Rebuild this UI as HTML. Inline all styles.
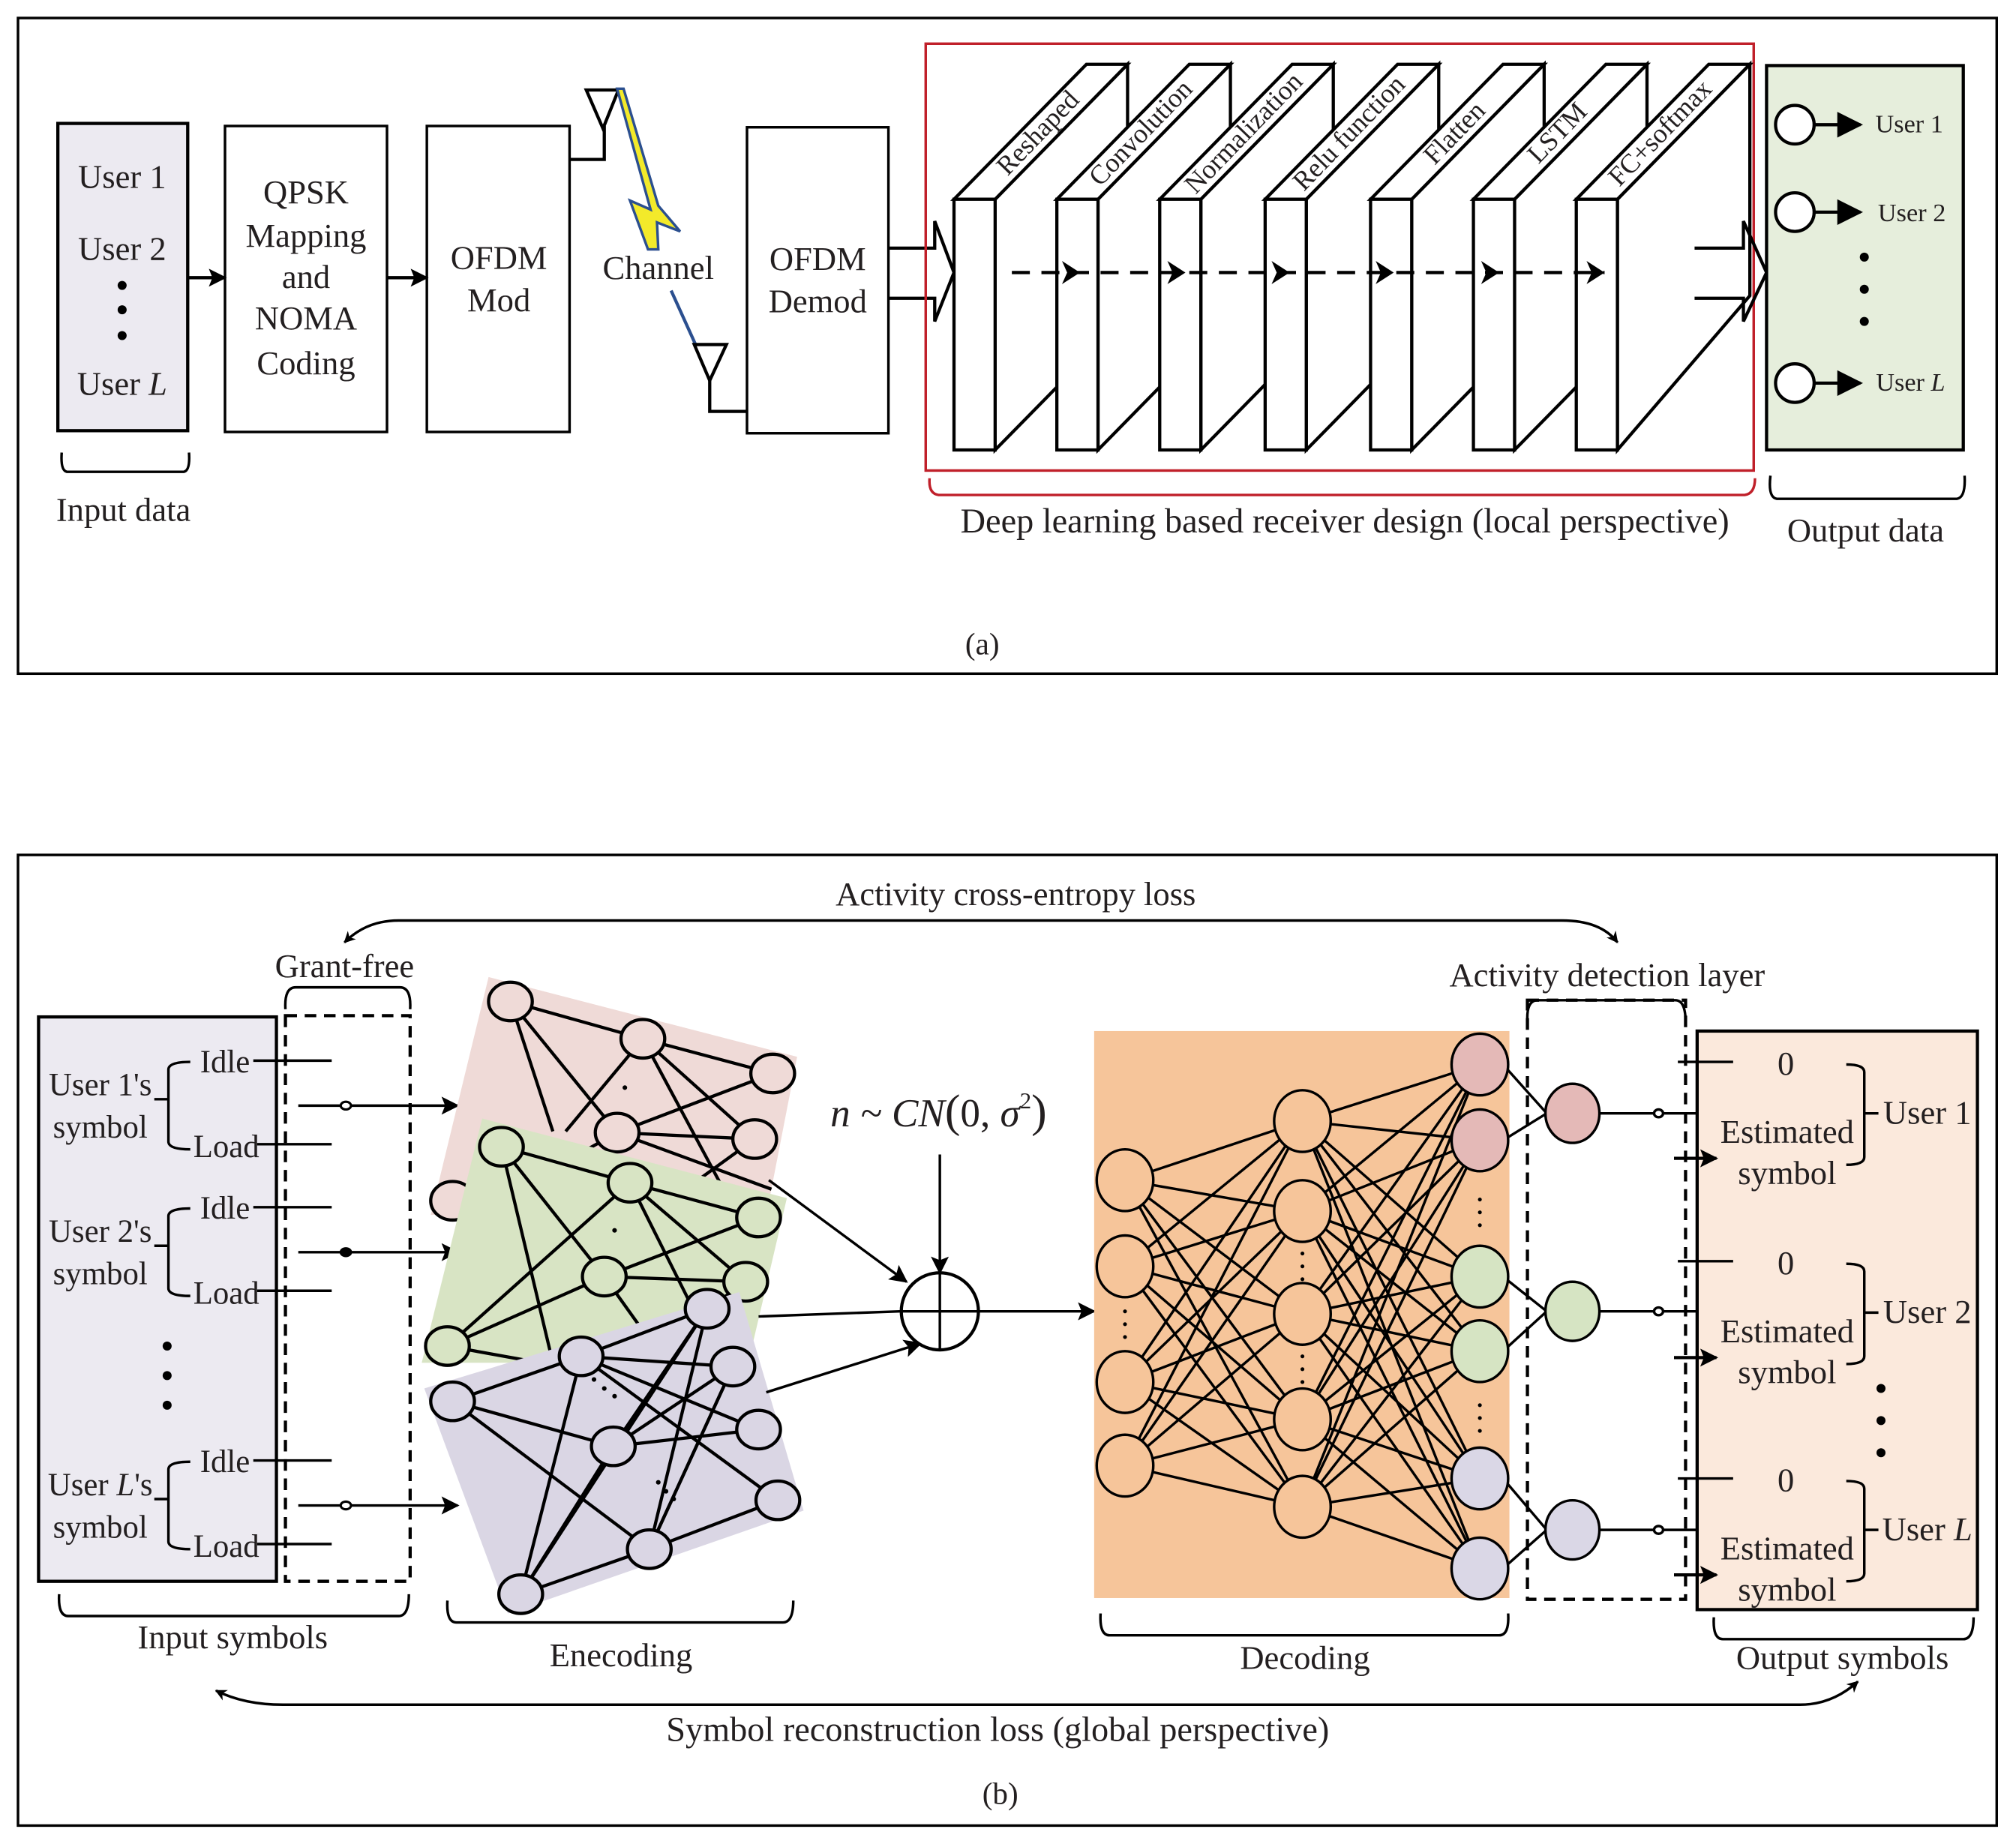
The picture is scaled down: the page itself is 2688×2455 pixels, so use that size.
<!DOCTYPE html>
<html><head><meta charset="utf-8"><style>
html,body{margin:0;padding:0;background:#fff}
svg{display:block}
text{font-family:"Liberation Serif",serif;fill:#231f20}
</style></head><body>
<svg id="s" width="2688" height="2455" viewBox="0 0 1568 1432" preserveAspectRatio="none" xmlns="http://www.w3.org/2000/svg">
<defs>
<marker id="ah" viewBox="0 0 10 10" refX="9" refY="5" markerWidth="9" markerHeight="9" orient="auto-start-reverse" markerUnits="userSpaceOnUse"><path d="M0,0 L10,5 L0,10 L3,5 z" fill="#000"/></marker>
<marker id="ah2" viewBox="0 0 10 10" refX="9" refY="5" markerWidth="16" markerHeight="14" orient="auto-start-reverse" markerUnits="userSpaceOnUse"><path d="M0,0 L10,5 L0,10 L2,5 z" fill="#000"/></marker>
<marker id="ah3" viewBox="0 0 10 10" refX="9" refY="5" markerWidth="24" markerHeight="20" orient="auto" markerUnits="userSpaceOnUse"><path d="M0,0 L10,5 L0,10 z" fill="#000"/></marker>
</defs>
<rect x="0" y="0" width="1568" height="1432" fill="#fff"/>
<!-- ================= (a) ================= -->
<rect x="14" y="14" width="1539" height="510" fill="none" stroke="#000" stroke-width="2"/>
<g font-size="26" text-anchor="middle">
<rect x="45" y="96" width="101" height="239" fill="#ECEAF1" stroke="#000" stroke-width="2.5"/>
<text x="95" y="146">User 1</text>
<text x="95" y="202">User 2</text>
<circle cx="95" cy="222" r="3.5" fill="#000"/><circle cx="95" cy="241" r="3.5" fill="#000"/><circle cx="95" cy="261" r="3.5" fill="#000"/>
<text x="95" y="307">User <tspan font-style="italic">L</tspan></text>
<path d="M48,352 Q47,366 52,367 L143,367 Q148,366 147,352" fill="none" stroke="#000" stroke-width="2"/>
<text x="96" y="405">Input data</text>

<rect x="175" y="98" width="126" height="238" fill="#fff" stroke="#000" stroke-width="2"/>
<text x="238" y="158">QPSK</text><text x="238" y="192">Mapping</text><text x="238" y="224">and</text><text x="238" y="256">NOMA</text><text x="238" y="291">Coding</text>
<line x1="146" y1="216" x2="175" y2="216" stroke="#000" stroke-width="2.5" marker-end="url(#ah2)"/>
<rect x="332" y="98" width="111" height="238" fill="#fff" stroke="#000" stroke-width="2"/>
<text x="388" y="209">OFDM</text><text x="388" y="242">Mod</text>
<line x1="301" y1="216" x2="332" y2="216" stroke="#000" stroke-width="2.5" marker-end="url(#ah2)"/>
<polyline points="443,124 470,124 470,98" fill="none" stroke="#000" stroke-width="2.5"/>
<polygon points="456,70 481,70 469,100" fill="none" stroke="#000" stroke-width="2.5"/>
<polygon points="480,69 485,69 512,160 529,180 511,173 512,194 504,194 490,156 506,163" fill="#F3EA2A" stroke="#2B4F8F" stroke-width="2"/>
<line x1="522" y1="226" x2="541" y2="268" stroke="#2B4F8F" stroke-width="2.5"/>
<text x="512" y="217">Channel</text>
<polygon points="540,268 565,268 552,296" fill="none" stroke="#000" stroke-width="2.5"/>
<polyline points="552,296 552,320 581,320" fill="none" stroke="#000" stroke-width="2.5"/>
<rect x="581" y="99" width="110" height="238" fill="#fff" stroke="#000" stroke-width="2"/>
<text x="636" y="210">OFDM</text><text x="636" y="243">Demod</text>
</g>
<polyline points="691,193 727,193 727,172 742,212 727,250 727,232 691,232" fill="none" stroke="#000" stroke-width="2.5"/>
<rect x="720" y="34" width="644" height="332" fill="none" stroke="#C0202A" stroke-width="2"/>
<g id="layers" stroke="#000" stroke-width="2.5" fill="#fff"></g>
<polyline points="1318,193 1356,193 1356,172 1374,212 1356,250 1356,232 1318,232" fill="none" stroke="#000" stroke-width="2.5"/>
<path d="M723,372 Q722,384 730,385 L1357,385 Q1365,384 1365,372" fill="none" stroke="#C0202A" stroke-width="2"/>
<text x="1046" y="414" font-size="27" text-anchor="middle">Deep learning based receiver design (local perspective)</text>
<rect x="1374" y="51" width="153" height="299" fill="#E6EEDC" stroke="#000" stroke-width="2.5"/>
<g font-size="20" text-anchor="middle">
<circle cx="1396" cy="97" r="15" fill="#fff" stroke="#000" stroke-width="2.5"/><line x1="1411" y1="97" x2="1447" y2="97" stroke="#000" stroke-width="2.5" marker-end="url(#ah3)"/><text x="1485" y="103">User 1</text>
<circle cx="1396" cy="165" r="15" fill="#fff" stroke="#000" stroke-width="2.5"/><line x1="1411" y1="165" x2="1447" y2="165" stroke="#000" stroke-width="2.5" marker-end="url(#ah3)"/><text x="1487" y="172">User 2</text>
<circle cx="1396" cy="298" r="15" fill="#fff" stroke="#000" stroke-width="2.5"/><line x1="1411" y1="298" x2="1447" y2="298" stroke="#000" stroke-width="2.5" marker-end="url(#ah3)"/><text x="1486" y="304">User <tspan font-style="italic">L</tspan></text>
</g>
<circle cx="1450" cy="200" r="3.5" fill="#000"/><circle cx="1450" cy="225" r="3.5" fill="#000"/><circle cx="1450" cy="250" r="3.5" fill="#000"/>
<path d="M1377,370 Q1375,387 1382,388 L1522,388 Q1529,387 1528,370" fill="none" stroke="#000" stroke-width="2"/>
<text x="1451" y="421" font-size="26" text-anchor="middle">Output data</text>
<text x="764" y="509" font-size="24" text-anchor="middle">(a)</text>

<!-- ================= (b) ================= -->
<rect x="14" y="665" width="1539" height="755" fill="none" stroke="#000" stroke-width="2"/>
<text x="790" y="704" font-size="26" text-anchor="middle">Activity cross-entropy loss</text>
<path d="M268,733 Q285,716 310,716 L1215,716 Q1245,716 1258,733" fill="none" stroke="#000" stroke-width="2" marker-start="url(#ah)" marker-end="url(#ah)"/>
<path d="M168,1315 Q190,1326 220,1326 L1400,1326 Q1425,1326 1445,1308" fill="none" stroke="#000" stroke-width="2" marker-start="url(#ah)" marker-end="url(#ah)"/>
<text x="776" y="1354" font-size="27" text-anchor="middle">Symbol reconstruction loss (global perspective)</text>
<text x="778" y="1403" font-size="24" text-anchor="middle">(b)</text>

<rect x="30" y="791" width="185" height="439" fill="#ECEAF1" stroke="#000" stroke-width="2.5"/>
<rect x="222" y="790" width="97" height="440" fill="none" stroke="#000" stroke-width="2.5" stroke-dasharray="9,6"/>
<path d="M222,785 Q221,768 230,768 L311,768 Q320,768 319,785" fill="none" stroke="#000" stroke-width="2"/>
<text x="268" y="760" font-size="26" text-anchor="middle">Grant-free</text>
<g id="users" font-size="25" text-anchor="middle"></g>
<circle cx="130" cy="1047" r="3.5" fill="#000"/><circle cx="130" cy="1070" r="3.5" fill="#000"/><circle cx="130" cy="1093" r="3.5" fill="#000"/>
<path d="M46,1240 Q45,1257 53,1257 L310,1257 Q318,1257 318,1240" fill="none" stroke="#000" stroke-width="2"/>
<text x="181" y="1282" font-size="26" text-anchor="middle">Input symbols</text>

<!-- encoder panels -->
<polygon points="380,760 620,822 598,935 335,945" fill="#EFDAD7"/>
<g id="encP" stroke="#000" stroke-width="2.5" fill="#EFDAD7"></g>
<polygon points="375,870 612,932 582,1060 328,1060" fill="#D8E4C4"/>
<g id="encG" stroke="#000" stroke-width="2.5" fill="#D8E4C4"></g>
<polygon points="330,1080 575,1005 625,1175 395,1255" fill="#DAD6E4"/>
<g id="encL" stroke="#000" stroke-width="2.5" fill="#DAD6E4"></g>
<path d="M348,1245 Q347,1262 355,1262 L609,1262 Q617,1262 617,1245" fill="none" stroke="#000" stroke-width="2"/>
<text x="483" y="1296" font-size="26" text-anchor="middle">Enecoding</text>

<line x1="598" y1="918" x2="705" y2="997" stroke="#000" stroke-width="2" marker-end="url(#ah2)"/>
<line x1="590" y1="1024" x2="700" y2="1020" stroke="#000" stroke-width="2"/>
<line x1="596" y1="1083" x2="716" y2="1045" stroke="#000" stroke-width="2" marker-end="url(#ah2)"/>
<text x="730" y="876" font-size="31" text-anchor="middle" font-style="italic">n ~ CN<tspan font-style="normal" font-size="36">(</tspan><tspan font-style="normal">0,</tspan> σ<tspan font-size="18" dy="-14" font-style="normal">2</tspan><tspan font-style="normal" font-size="36" dy="14">)</tspan></text>
<line x1="731" y1="898" x2="731" y2="990" stroke="#000" stroke-width="2" marker-end="url(#ah2)"/>
<circle cx="731" cy="1020" r="30" fill="#fff" stroke="#000" stroke-width="2.5"/>
<line x1="701" y1="1020" x2="761" y2="1020" stroke="#000" stroke-width="2"/><line x1="731" y1="990" x2="731" y2="1050" stroke="#000" stroke-width="2"/>
<line x1="762" y1="1020" x2="851" y2="1020" stroke="#000" stroke-width="2" marker-end="url(#ah2)"/>

<rect x="851" y="802" width="323" height="441" fill="#F6C59A"/>
<g id="dec" stroke="#000" stroke-width="2"></g>
<path d="M856,1255 Q855,1272 863,1272 L1166,1272 Q1174,1272 1173,1255" fill="none" stroke="#000" stroke-width="2"/>
<text x="1015" y="1298" font-size="26" text-anchor="middle">Decoding</text>

<rect x="1188" y="778" width="123" height="466" fill="none" stroke="#000" stroke-width="2.5" stroke-dasharray="9,6"/>
<path d="M1188,795 Q1187,778 1196,778 L1303,778 Q1311,778 1311,795" fill="none" stroke="#000" stroke-width="2"/>
<text x="1250" y="767" font-size="26" text-anchor="middle">Activity detection layer</text>
<rect x="1320" y="802" width="218" height="450" fill="#FBE9DC" stroke="#000" stroke-width="2.5"/>
<g id="outs" font-size="26" text-anchor="middle"></g>
<circle cx="1463" cy="1080" r="3.5" fill="#000"/><circle cx="1463" cy="1105" r="3.5" fill="#000"/><circle cx="1463" cy="1130" r="3.5" fill="#000"/>
<path d="M1333,1258 Q1332,1275 1340,1275 L1527,1275 Q1535,1275 1535,1258" fill="none" stroke="#000" stroke-width="2"/>
<text x="1433" y="1298" font-size="26" text-anchor="middle">Output symbols</text>
</svg>
<script>
var NS="http://www.w3.org/2000/svg";
function el(p,t,a,txt){var e=document.createElementNS(NS,t);for(var k in a)e.setAttribute(k,a[k]);if(txt!==undefined)e.textContent=txt;p.appendChild(e);return e;}
var L=document.getElementById('layers');
var xs=[742,822,902,984,1066,1146,1226],names=["Reshaped","Convolution","Normalization","Relu function","Flatten","LSTM","FC+softmax"];
xs.forEach(function(x,i){
  var bot = (i==6)?230:245;
  el(L,'polygon',{points:(x+32)+",155 "+(x+135)+",50 "+(x+135)+","+bot+" "+(x+32)+",350"});
  el(L,'polygon',{points:x+",155 "+(x+103)+",50 "+(x+135)+",50 "+(x+32)+",155"});
  el(L,'rect',{x:x,y:155,width:32,height:195});
  el(L,'text',{x:0,y:0,'font-size':21,'text-anchor':'middle',stroke:'none',fill:'#231f20',transform:'translate('+(x+70)+','+(108)+') rotate(-46)'},names[i]);
});
el(L,'line',{x1:787,y1:212,x2:1248,y2:212,'stroke-dasharray':'14,9',fill:'none'});
[840,922,1003,1084,1166,1248].forEach(function(x){el(L,'path',{d:'M'+(x-14)+',203 L'+x+',212 L'+(x-14)+',221 L'+(x-10)+',212z',fill:'#000',stroke:'none'});});
var U=document.getElementById('users');
[[860,"User 1's"],[974,"User 2's"],[1171,"User L's"]].forEach(function(u,i){
  var c=u[0];
  var t=el(U,'text',{x:78,y:c-8});
  if(i==2){el(t,'tspan',{},"User ");el(t,'tspan',{'font-style':'italic'},"L");el(t,'tspan',{},"'s");} else t.textContent=u[1];
  el(U,'text',{x:78,y:c+25},"symbol");
  el(U,'path',{d:'M148,'+(c-34)+' Q131,'+(c-34)+' 131,'+(c-28)+' L131,'+(c+28)+' Q131,'+(c+34)+' 148,'+(c+34)+' M120,'+(c-5)+' L131,'+(c-5),fill:'none',stroke:'#000','stroke-width':2});
  el(U,'text',{x:175,y:c-26},"Idle");
  el(U,'text',{x:176,y:c+40},"Load");
  el(U,'line',{x1:197,y1:c-35,x2:258,y2:c-35,stroke:'#000','stroke-width':2});
  el(U,'line',{x1:200,y1:c+30,x2:258,y2:c+30,stroke:'#000','stroke-width':2});
  el(U,'line',{x1:232,y1:c,x2:356,y2:c,stroke:'#000','stroke-width':2,'marker-end':'url(#ah2)'});
  el(U,'ellipse',{cx:269,cy:c,rx:4,ry:3,fill:(i==1?'#000':'#fff'),stroke:'#000','stroke-width':1.8});
});
function net(id,N,E){var g=document.getElementById(id);
  E.forEach(function(e){var a=N[e[0]],b=(typeof e[1]=='number')?N[e[1]]:e[1];el(g,'line',{x1:a[0],y1:a[1],x2:b[0],y2:b[1]});});
  N.forEach(function(n){el(g,'ellipse',{cx:n[0],cy:n[1],rx:17,ry:15});});}
net('encP',[[397,779],[500,808],[601,835],[480,881],[587,886],[352,934]],
 [[0,1],[0,3],[0,[430,880]],[1,2],[1,4],[1,[440,880]],[1,[560,920]],[3,2],[3,4],[3,[600,925]],[3,[455,895]],[4,[540,920]]]);
el(document.getElementById('encP'),'circle',{cx:486,cy:846,r:1.8,fill:'#000',stroke:'none'});
net('encG',[[390,892],[490,920],[590,947],[470,993],[580,997],[348,1047]],
 [[0,1],[0,3],[0,[430,1060]],[1,2],[1,4],[1,5],[1,[545,1030]],[3,5],[3,2],[3,4],[3,[500,1035]],[5,[420,1060]],[4,[520,1040]]]);
el(document.getElementById('encG'),'circle',{cx:478,cy:957,r:1.8,fill:'#000',stroke:'none'});
net('encL',[[352,1090],[452,1055],[550,1018],[477,1125],[570,1063],[605,1167],[505,1205],[405,1240],[590,1112]],
 [[0,1],[0,3],[0,6],[1,2],[1,4],[1,7],[1,5],[1,8],[3,2],[3,4],[3,7],[3,8],[2,6],[2,3],[6,4],[6,5],[6,7],[2,7],[4,6]]);
[[462,1073],[470,1080],[478,1086],[512,1153],[518,1160],[524,1166]].forEach(function(p){el(document.getElementById('encL'),'circle',{cx:p[0],cy:p[1],r:1.8,fill:'#000',stroke:'none'});});
var D=document.getElementById('dec');
var l1=[[875,918],[875,985],[875,1075],[875,1140]],l2=[[1013,872],[1013,942],[1013,1022],[1013,1104],[1013,1172]],
l3=[[1151,828,'#E4B9B7'],[1151,887,'#E4B9B7'],[1151,993,'#D6E4C3'],[1151,1051,'#D6E4C3'],[1151,1150,'#DAD7E6'],[1151,1220,'#DAD7E6']];
l1.forEach(function(a){l2.forEach(function(b){el(D,'line',{x1:a[0],y1:a[1],x2:b[0],y2:b[1]});});});
l2.forEach(function(a){l3.forEach(function(b){el(D,'line',{x1:a[0],y1:a[1],x2:b[0],y2:b[1]});});});
var act=[[1223,866,'#E4B9B7'],[1223,1020,'#D6E4C3'],[1223,1190,'#DAD7E6']];
for(var k=0;k<3;k++){el(D,'line',{x1:l3[2*k][0]+18,y1:l3[2*k][1],x2:act[k][0]-20,y2:act[k][1]});el(D,'line',{x1:l3[2*k+1][0]+18,y1:l3[2*k+1][1],x2:act[k][0]-20,y2:act[k][1]});}
l1.forEach(function(n){el(D,'ellipse',{cx:n[0],cy:n[1],rx:22,ry:24,fill:'#F6C59A'});});
l2.forEach(function(n){el(D,'ellipse',{cx:n[0],cy:n[1],rx:22,ry:24,fill:'#F6C59A'});});
l3.forEach(function(n){el(D,'ellipse',{cx:n[0],cy:n[1],rx:22,ry:24,fill:n[2]});});
[[875,1020],[875,1030],[875,1040],[1013,975],[1013,985],[1013,995],[1013,1055],[1013,1065],[1013,1075],[1151,933],[1151,943],[1151,953],[1151,1093],[1151,1103],[1151,1113]].forEach(function(p){el(D,'circle',{cx:p[0],cy:p[1],r:1.5,fill:'#000',stroke:'none'});});
act.forEach(function(n){el(D,'line',{x1:1244,y1:n[1],x2:1325,y2:n[1]});el(D,'ellipse',{cx:1290,cy:n[1],rx:3.5,ry:3,fill:'#fff'});el(D,'ellipse',{cx:n[0],cy:n[1],rx:21,ry:23,fill:n[2]});});
var O=document.getElementById('outs');
[[866,"1"],[1021,"2"],[1190,"L"]].forEach(function(u){var c=u[0];
  el(O,'line',{x1:1305,y1:c-40,x2:1348,y2:c-40,stroke:'#000','stroke-width':2});
  el(O,'text',{x:1389,y:c-30},"0");
  el(O,'text',{x:1390,y:c+23},"Estimated");
  el(O,'text',{x:1390,y:c+55},"symbol");
  el(O,'line',{x1:1302,y1:c+35,x2:1335,y2:c+35,stroke:'#000','stroke-width':2.5,'marker-end':'url(#ah2)'});
  el(O,'path',{d:'M1436,'+(c-38)+' Q1450,'+(c-38)+' 1450,'+(c-32)+' L1450,'+(c+34)+' Q1450,'+(c+40)+' 1436,'+(c+40)+' M1450,'+c+' L1461,'+c,fill:'none',stroke:'#000','stroke-width':2});
  var t=el(O,'text',{x:1499,y:c+8});
  if(u[1]=="L"){el(t,'tspan',{},"User ");el(t,'tspan',{'font-style':'italic'},"L");} else t.textContent="User "+u[1];
});
</script>
</body></html>
